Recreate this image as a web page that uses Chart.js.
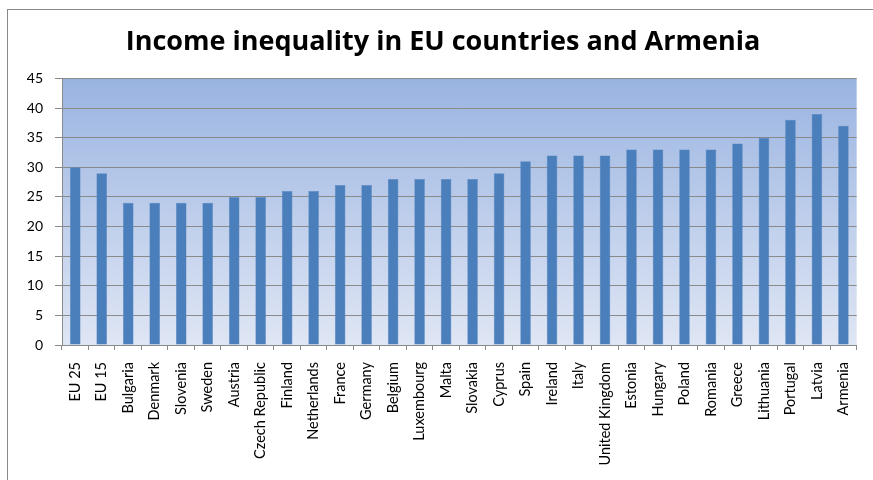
<!DOCTYPE html>
<html>
<head>
<meta charset="utf-8">
<script src="https://cdn.jsdelivr.net/npm/chart.js@4.4.0/dist/chart.umd.min.js"></script>
<style>
  html, body { margin: 0; padding: 0; background: #fff; overflow: hidden; }
  .wrap { position: relative; width: 873px; height: 480px; }
  .frame { position: absolute; left: 7px; top: 9px; width: 900px; height: 520px; border: 1px solid #8a8a8a; box-sizing: border-box; pointer-events: none; }
  canvas { position: absolute; left: 0; top: 0; }
</style>
</head>
<body>
<div class="wrap">
  <canvas id="chart" width="873" height="480"></canvas>
  <div class="frame"></div>
</div>
<script>
const countries = ['EU 25', 'EU 15', 'Bulgaria', 'Denmark', 'Slovenia', 'Sweden', 'Austria',
  'Czech Republic', 'Finland', 'Netherlands', 'France', 'Germany', 'Belgium', 'Luxembourg',
  'Malta', 'Slovakia', 'Cyprus', 'Spain', 'Ireland', 'Italy', 'United Kingdom', 'Estonia',
  'Hungary', 'Poland', 'Romania', 'Greece', 'Lithuania', 'Portugal', 'Latvia', 'Armenia'];
const gini = [30, 29, 24, 24, 24, 24, 25, 25, 26, 26, 27, 27, 28, 28, 28, 28, 29, 31, 32, 32,
  32, 33, 33, 33, 33, 34, 35, 38, 39, 37];
const yTicks = [0, 5, 10, 15, 20, 25, 30, 35, 40, 45];

// gradient fill behind the plot area
const plotBackground = {
  id: 'plotBackground',
  beforeDraw(chart) {
    const { ctx, chartArea: a } = chart;
    ctx.save();
    ctx.fillStyle = '#ffffff';
    ctx.fillRect(0, 0, chart.width, chart.height);
    const g = ctx.createLinearGradient(0, a.top, 0, a.bottom);
    g.addColorStop(0, '#9ab4e1');
    g.addColorStop(1, '#dfe6f4');
    ctx.fillStyle = g;
    ctx.fillRect(a.left, a.top, a.right - a.left, a.bottom - a.top);
    ctx.restore();
  }
};

new Chart(document.getElementById('chart').getContext('2d'), {
  type: 'bar',
  data: {
    labels: countries,
    datasets: [{
      data: gini,
      backgroundColor: '#4b7fbc',
      borderColor: '#5587c2',
      borderWidth: 0.5,
      categoryPercentage: 1,
      barPercentage: 0.4
    }]
  },
  options: {
    responsive: false,
    animation: false,
    layout: { padding: { left: 24, right: 11, top: 0, bottom: 0 } },
    plugins: {
      legend: { display: false },
      tooltip: { enabled: false },
      title: {
        display: true,
        text: 'Income inequality in EU countries and Armenia',
        color: '#000',
        font: { family: 'Open Sans', size: 27, weight: 'bold' },
        padding: { top: 26, bottom: 20 }
      }
    },
    scales: {
      x: {
        grid: { offset: true, drawOnChartArea: false, drawTicks: true, tickLength: 5, color: '#8a8a8a' },
        border: { color: '#8a8a8a' },
        ticks: {
          autoSkip: false, maxRotation: 90, minRotation: 90, padding: 12,
          color: '#000', font: { family: 'Lato', size: 14.5 }
        },
        afterFit(scale) { scale.height = 135; }
      },
      y: {
        min: 0, max: 45,
        afterBuildTicks(scale) { scale.ticks = yTicks.map(v => ({ value: v })); },
        grid: { color: '#8a8a8a', tickLength: 7 },
        border: { color: '#8a8a8a' },
        ticks: { padding: 12, color: '#000', font: { family: 'Lato', size: 14 } },
        afterFit(scale) { scale.width = 38; }
      }
    }
  },
  plugins: [plotBackground]
});
</script>
</body>
</html>
